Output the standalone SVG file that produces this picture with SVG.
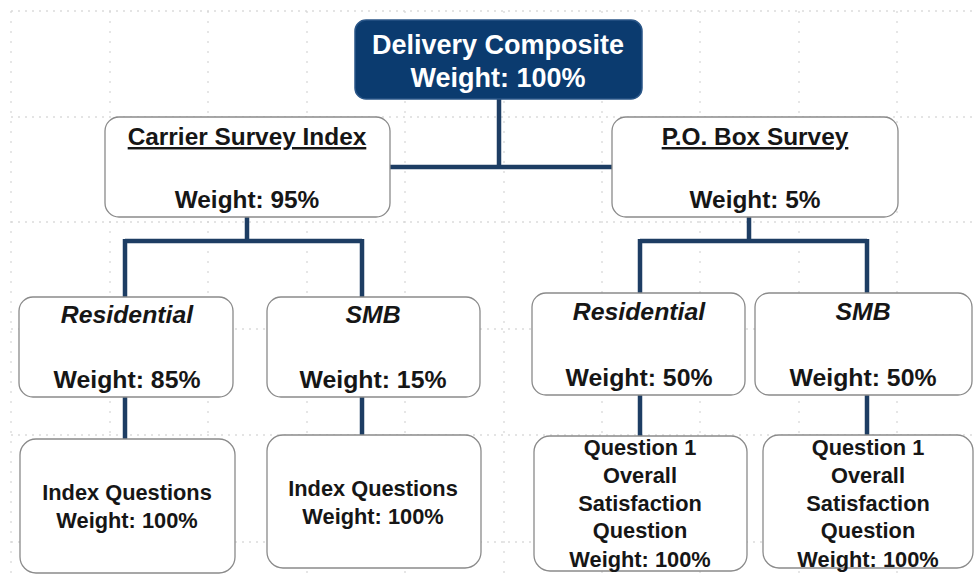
<svg xmlns="http://www.w3.org/2000/svg" width="974" height="575" viewBox="0 0 974 575">
  <style>
    .grid line { stroke: #c9c9c9; stroke-width: 1.2; stroke-dasharray: 2 5; }
    .grid .v { stroke: #d6d6d6; stroke-dasharray: 2 8; }
    .box { fill: #ffffff; stroke: #8a8a8a; stroke-width: 1.3; }
    .root { fill: #0b3b6f; stroke: #2a5688; stroke-width: 1.5; }
    .conn { fill: none; stroke: #1d3d63; stroke-width: 4.5; stroke-linejoin: miter; }
    text { font-family: "Liberation Sans", Arial, sans-serif; font-weight: bold; text-anchor: middle; fill: #161616; }
    .rootText { fill: #ffffff; font-size: 27px; }
    .l1 { font-size: 24.4px; }
    .l2 { font-size: 24.8px; }
    .it { font-style: italic; }
    .l3 { font-size: 21.8px; }
  </style>

  <rect width="974" height="575" fill="#ffffff"/>

  <!-- background guide grid -->
  <g class="grid">
    <line x1="11" y1="11" x2="974" y2="11"/>
    <line x1="11" y1="117" x2="974" y2="117"/>
    <line x1="11" y1="222" x2="974" y2="222"/>
    <line x1="11" y1="329" x2="974" y2="329"/>
    <line x1="11" y1="435" x2="974" y2="435"/>
    <line x1="11" y1="542" x2="974" y2="542"/>
    <line class="v" x1="11" y1="11" x2="11" y2="575"/>
    <line class="v" x1="110" y1="11" x2="110" y2="575"/>
    <line class="v" x1="208" y1="11" x2="208" y2="575"/>
    <line class="v" x1="307" y1="11" x2="307" y2="575"/>
    <line class="v" x1="405" y1="11" x2="405" y2="575"/>
    <line class="v" x1="504" y1="11" x2="504" y2="575"/>
    <line class="v" x1="602" y1="11" x2="602" y2="575"/>
    <line class="v" x1="700" y1="11" x2="700" y2="575"/>
    <line class="v" x1="799" y1="11" x2="799" y2="575"/>
    <line class="v" x1="897" y1="11" x2="897" y2="575"/>
  </g>

  <!-- connectors -->
  <g id="connectors" class="conn">
    <path d="M499 99 V167"/>
    <path d="M390 167 H612"/>
    <path d="M247 217 V241 M125 241 H362 M125 239 V297 M362 239 V297"/>
    <path d="M749 217 V241 M640 241 H867 M640 239 V293 M867 239 V293"/>
    <path d="M125 397 V439"/>
    <path d="M362 397 V435"/>
    <path d="M640 395 V436"/>
    <path d="M867 395 V435"/>
  </g>

  <g id="delivery-composite">
    <rect class="root" x="355" y="20" width="287" height="79" rx="11"/>
    <text class="rootText" x="498" y="54">Delivery Composite</text>
    <text class="rootText" x="498" y="87">Weight: 100%</text>
  </g>

  <g id="carrier-survey-index">
    <rect class="box" x="105" y="117" width="285" height="100" rx="14"/>
    <text class="l1" x="247" y="145" text-decoration="underline">Carrier Survey Index</text>
    <text class="l1" x="247" y="208">Weight: 95%</text>
  </g>

  <g id="po-box-survey">
    <rect class="box" x="612" y="117" width="286" height="100" rx="14"/>
    <text class="l1" x="755" y="145" text-decoration="underline">P.O. Box Survey</text>
    <text class="l1" x="755" y="208">Weight: 5%</text>
  </g>

  <g id="carrier-residential">
    <rect class="box" x="19" y="297" width="214" height="100" rx="14"/>
    <text class="l2 it" x="127" y="323">Residential</text>
    <text class="l2" x="127" y="388">Weight: 85%</text>
  </g>

  <g id="carrier-smb">
    <rect class="box" x="267" y="297" width="213" height="100" rx="14"/>
    <text class="l2 it" x="373" y="323">SMB</text>
    <text class="l2" x="373" y="388">Weight: 15%</text>
  </g>

  <g id="po-residential">
    <rect class="box" x="532" y="293" width="213" height="102" rx="14"/>
    <text class="l2 it" x="639" y="320">Residential</text>
    <text class="l2" x="639" y="386">Weight: 50%</text>
  </g>

  <g id="po-smb">
    <rect class="box" x="755" y="293" width="217" height="102" rx="14"/>
    <text class="l2 it" x="863" y="320">SMB</text>
    <text class="l2" x="863" y="386">Weight: 50%</text>
  </g>

  <g id="carrier-residential-questions">
    <rect class="box" x="20" y="439" width="215" height="134" rx="16"/>
    <text class="l3" x="127" y="500">Index Questions</text>
    <text class="l3" x="127" y="528">Weight: 100%</text>
  </g>

  <g id="carrier-smb-questions">
    <rect class="box" x="267" y="435" width="214" height="133" rx="16"/>
    <text class="l3" x="373" y="496">Index Questions</text>
    <text class="l3" x="373" y="524">Weight: 100%</text>
  </g>

  <g id="po-residential-question">
    <rect class="box" x="534" y="436" width="213" height="135" rx="16"/>
    <text class="l3" x="640" y="455">Question 1</text>
    <text class="l3" x="640" y="483">Overall</text>
    <text class="l3" x="640" y="511">Satisfaction</text>
    <text class="l3" x="640" y="538">Question</text>
    <text class="l3" x="640" y="567">Weight: 100%</text>
  </g>

  <g id="po-smb-question">
    <rect class="box" x="763" y="435" width="210" height="133" rx="16"/>
    <text class="l3" x="868" y="455">Question 1</text>
    <text class="l3" x="868" y="483">Overall</text>
    <text class="l3" x="868" y="511">Satisfaction</text>
    <text class="l3" x="868" y="538">Question</text>
    <text class="l3" x="868" y="567">Weight: 100%</text>
  </g>
</svg>
